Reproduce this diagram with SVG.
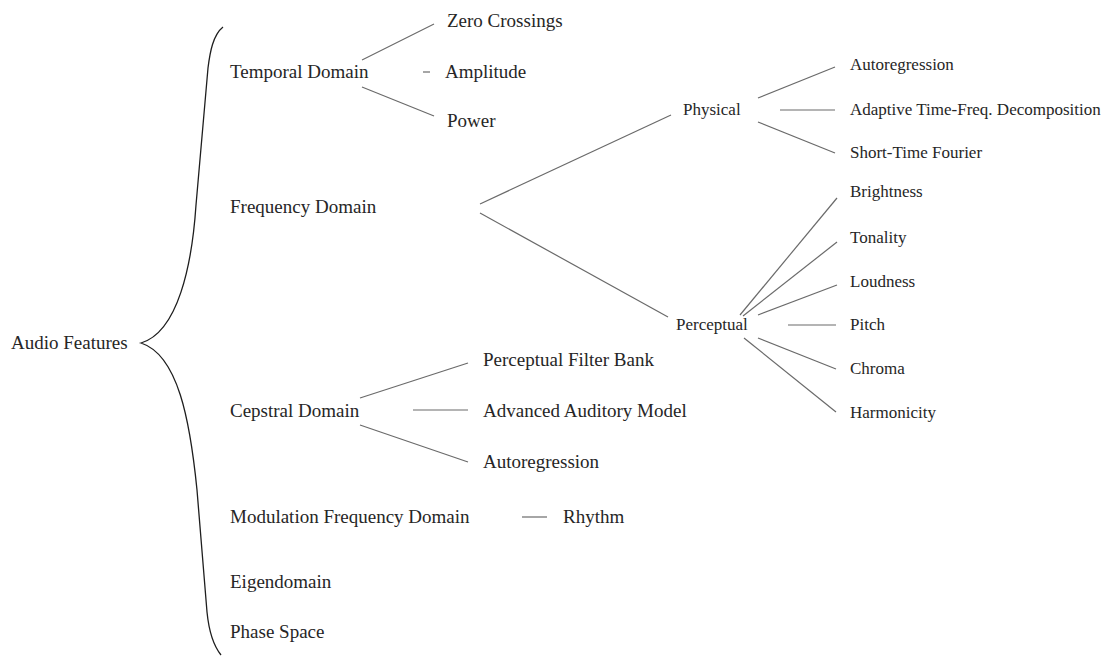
<svg xmlns="http://www.w3.org/2000/svg" width="1111" height="656" viewBox="0 0 1111 656">
  <style>
    text { font-family: "Liberation Serif", "DejaVu Serif", serif; fill: #262626; }
    .l1 { font-size: 19px; }
    .l2 { font-size: 17px; }
    .edge { stroke: #6a6a6a; stroke-width: 1.2; fill: none; }
    .brace { stroke: #1e1e1e; stroke-width: 1.3; fill: none; }
  </style>
  <rect width="1111" height="656" fill="#ffffff"/>

  <!-- curly brace grouping the domains -->
  <g id="brace">
    <path class="brace" d="M 223,27 C 213,35 210,52 208,68 L 196,205 C 192,265 178,332 141,343 C 178,355 190,420 197,490 L 207,612 C 209,632 213,645 221,655"/>
  </g>

  <!-- connectors -->
  <g id="connectors">
    <line class="edge" x1="362" y1="60" x2="434" y2="24"/>
    <line class="edge" x1="423" y1="72" x2="430" y2="72"/>
    <line class="edge" x1="362" y1="87" x2="434" y2="116"/>

    <line class="edge" x1="480" y1="204" x2="671" y2="115"/>
    <line class="edge" x1="480" y1="213" x2="668" y2="317"/>

    <line class="edge" x1="758" y1="98" x2="835" y2="67"/>
    <line class="edge" x1="780" y1="110" x2="835" y2="110"/>
    <line class="edge" x1="758" y1="122" x2="835" y2="153"/>

    <line class="edge" x1="740" y1="315" x2="837" y2="198"/>
    <line class="edge" x1="743" y1="316" x2="837" y2="242"/>
    <line class="edge" x1="758" y1="315" x2="837" y2="285"/>
    <line class="edge" x1="788" y1="325" x2="836" y2="325"/>
    <line class="edge" x1="758" y1="338" x2="836" y2="369"/>
    <line class="edge" x1="744" y1="338" x2="836" y2="412"/>

    <line class="edge" x1="360" y1="398" x2="468" y2="363"/>
    <line class="edge" x1="413" y1="410" x2="468" y2="410"/>
    <line class="edge" x1="360" y1="425" x2="468" y2="462"/>

    <line class="edge" x1="522" y1="517" x2="547" y2="517"/>
  </g>

  <!-- root -->
  <g id="audio-features"><text class="l1" x="11" y="349">Audio Features</text></g>

  <!-- temporal domain -->
  <g id="temporal-domain"><text class="l1" x="230" y="78">Temporal Domain</text></g>
  <g id="zero-crossings"><text class="l1" x="447" y="27">Zero Crossings</text></g>
  <g id="amplitude"><text class="l1" x="445" y="78">Amplitude</text></g>
  <g id="power"><text class="l1" x="447" y="127">Power</text></g>

  <!-- frequency domain -->
  <g id="frequency-domain"><text class="l1" x="230" y="213">Frequency Domain</text></g>
  <g id="physical"><text class="l2" x="683" y="115">Physical</text></g>
  <g id="phys-autoregression"><text class="l2" x="850" y="70">Autoregression</text></g>
  <g id="adaptive-tf"><text class="l2" x="850" y="115">Adaptive Time-Freq. Decomposition</text></g>
  <g id="stft"><text class="l2" x="850" y="158">Short-Time Fourier</text></g>

  <g id="perceptual"><text class="l2" x="676" y="330">Perceptual</text></g>
  <g id="brightness"><text class="l2" x="850" y="197">Brightness</text></g>
  <g id="tonality"><text class="l2" x="850" y="243">Tonality</text></g>
  <g id="loudness"><text class="l2" x="850" y="287">Loudness</text></g>
  <g id="pitch"><text class="l2" x="850" y="330">Pitch</text></g>
  <g id="chroma"><text class="l2" x="850" y="374">Chroma</text></g>
  <g id="harmonicity"><text class="l2" x="850" y="418">Harmonicity</text></g>

  <!-- cepstral domain -->
  <g id="cepstral-domain"><text class="l1" x="230" y="417">Cepstral Domain</text></g>
  <g id="filter-bank"><text class="l1" x="483" y="366">Perceptual Filter Bank</text></g>
  <g id="auditory-model"><text class="l1" x="483" y="417">Advanced Auditory Model</text></g>
  <g id="cep-autoregression"><text class="l1" x="483" y="468">Autoregression</text></g>

  <!-- remaining domains -->
  <g id="modulation-domain"><text class="l1" x="230" y="523">Modulation Frequency Domain</text></g>
  <g id="rhythm"><text class="l1" x="563" y="523">Rhythm</text></g>
  <g id="eigendomain"><text class="l1" x="230" y="588">Eigendomain</text></g>
  <g id="phase-space"><text class="l1" x="230" y="638">Phase Space</text></g>
</svg>
